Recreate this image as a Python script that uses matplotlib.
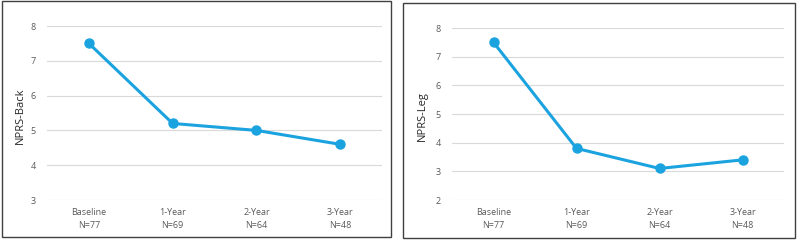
import matplotlib
matplotlib.use('Agg')
import matplotlib.pyplot as plt
from matplotlib.patches import Rectangle

categories = ['Baseline\nN=77', '1-Year\nN=69', '2-Year\nN=64', '3-Year\nN=48']
back_values = [7.5, 5.2, 5.0, 4.6]
leg_values = [7.5, 3.8, 3.1, 3.4]

W, H = 797, 240
line_color = '#1ba3e0'
grid_color = '#d9d9d9'
text_color = '#595959'

plt.rcParams['font.family'] = ['Open Sans', 'DejaVu Sans']

fig = plt.figure(figsize=(W / 100, H / 100), dpi=100)


def px_box(x0, y0, x1, y1):
    return [x0 / W, 1 - y1 / H, (x1 - x0) / W, (y1 - y0) / H]


def draw_panel(box, values, ylim, ylabel, label_x):
    ax = fig.add_axes(px_box(*box))
    x = list(range(len(values)))
    ax.plot(x, values, color=line_color, linewidth=2.2, marker='o',
            markersize=6.5, zorder=3)
    ax.set_xlim(-0.5, len(values) - 0.5)
    ax.set_ylim(*ylim)
    ax.set_yticks(range(ylim[0], ylim[1] + 1))
    ax.set_xticks(x)
    ax.set_xticklabels(categories, linespacing=1.5)
    ax.grid(axis='y', color=grid_color, linewidth=0.8)
    ax.set_axisbelow(True)
    for s in ax.spines.values():
        s.set_visible(False)
    ax.tick_params(length=0, labelsize=6.5, colors=text_color, pad=6)
    ax.tick_params(axis='y', pad=8)
    fig.text(label_x / W, 1 - 116 / H, ylabel,
             rotation=90, ha='center', va='center', fontsize=8, color='#262626')
    return ax


draw_panel((47, 26, 382, 200), back_values, (3, 8), 'NPRS-Back', 20)
draw_panel((452, 28, 784, 200), leg_values, (2, 8), 'NPRS-Leg', 422)

# panel frames
fig.patches.append(Rectangle((2 / W, 1 - 237 / H), 389 / W, 236 / H,
                             transform=fig.transFigure, fill=False,
                             edgecolor='#404040', linewidth=1))
fig.patches.append(Rectangle((403 / W, 1 - 238 / H), 392 / W, 235 / H,
                             transform=fig.transFigure, fill=False,
                             edgecolor='#404040', linewidth=1))

fig.savefig('out.png', dpi=100)
